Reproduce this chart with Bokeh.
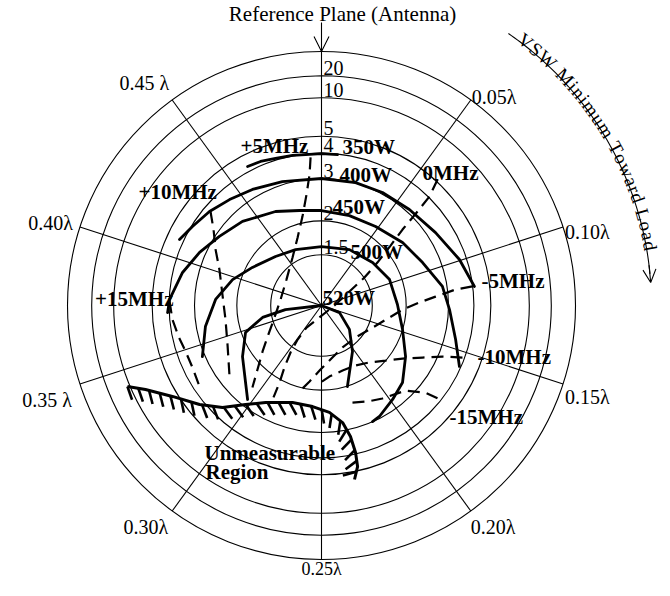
import numpy as np
from bokeh.plotting import figure
from bokeh.models import Range1d, Arrow, OpenHead
from bokeh.core.properties import value
from bokeh.embed import file_html
from bokeh.resources import INLINE

# ---------------- data ----------------
vswr_values = [1.5, 2, 3, 4, 5, 10, 20]
vswr_labels = ["1.5", "2", "3", "4", "5", "10", "20"]

wavelength_ticks = [0.00, 0.05, 0.10, 0.15, 0.20, 0.25, 0.30, 0.35, 0.40, 0.45]
wavelength_labels = ["", "0.05λ", "0.10λ", "0.15λ", "0.20λ", "0.25λ", "0.30λ", "0.35 λ", "0.40λ", "0.45 λ"]

# power contours (reflection coefficient: real / imaginary part)
p350_re = [-0.291, -0.240, -0.181, -0.114, -0.063, 0.000, 0.063]
p350_im = [0.547, 0.567, 0.579, 0.591, 0.594, 0.598, 0.594]
p400_re = [-0.559, -0.508, -0.441, -0.362, -0.272, -0.154, 0.000, 0.134, 0.240, 0.346, 0.449, 0.543, 0.602]
p400_im = [0.260, 0.311, 0.370, 0.417, 0.457, 0.488, 0.500, 0.484, 0.445, 0.378, 0.287, 0.181, 0.075]
p450_re = [-0.606, -0.598, -0.547, -0.480, -0.402, -0.311, -0.181, -0.087, 0.000, 0.110, 0.213, 0.319, 0.398, 0.476, 0.504, 0.528, 0.543]
p450_im = [-0.028, 0.024, 0.130, 0.209, 0.272, 0.331, 0.370, 0.374, 0.374, 0.354, 0.311, 0.248, 0.169, 0.075, -0.016, -0.134, -0.240]
p500_re = [-0.469, -0.457, -0.417, -0.350, -0.272, -0.181, -0.102, 0.000, 0.110, 0.201, 0.268, 0.299, 0.319, 0.331, 0.319, 0.280, 0.228, 0.201]
p500_im = [-0.201, -0.083, 0.024, 0.102, 0.150, 0.193, 0.220, 0.232, 0.220, 0.169, 0.102, 0.004, -0.094, -0.201, -0.303, -0.370, -0.437, -0.457]
p520_re = [-0.291, -0.299, -0.311, -0.299, -0.232, -0.142, 0.000, 0.071, 0.110, 0.122, 0.110, 0.102]
p520_im = [-0.370, -0.303, -0.201, -0.106, -0.047, -0.016, 0.000, -0.028, -0.094, -0.181, -0.264, -0.319]
power_labels = ["350W", "400W", "450W", "500W", "520W"]

# frequency-pulling contours
f_p15_re = [-0.598, -0.587, -0.563, -0.535, -0.508, -0.480]
f_p15_im = [0.016, -0.055, -0.122, -0.181, -0.244, -0.319]
f_p10_re = [-0.437, -0.425, -0.417, -0.402, -0.390, -0.378, -0.370, -0.362]
f_p10_im = [0.370, 0.299, 0.220, 0.142, 0.043, -0.055, -0.154, -0.280]
f_p5_re = [-0.043, -0.047, -0.059, -0.075, -0.094, -0.114, -0.138, -0.161, -0.185, -0.209, -0.232, -0.252, -0.272]
f_p5_im = [0.583, 0.516, 0.437, 0.350, 0.268, 0.189, 0.102, 0.024, -0.047, -0.114, -0.181, -0.252, -0.323]
f_0_re = [0.457, 0.425, 0.378, 0.319, 0.272, 0.220, 0.169, 0.110, 0.051, -0.008, -0.059, -0.094, -0.122, -0.146, -0.165, -0.189]
f_0_im = [0.496, 0.429, 0.370, 0.299, 0.236, 0.169, 0.110, 0.055, 0.000, -0.047, -0.087, -0.134, -0.185, -0.244, -0.303, -0.362]
f_m5_re = [0.594, 0.528, 0.449, 0.386, 0.319, 0.268, 0.201, 0.134, 0.083, 0.043, -0.004, -0.047, -0.087]
f_m5_im = [0.075, 0.063, 0.035, 0.012, -0.016, -0.047, -0.087, -0.126, -0.165, -0.205, -0.252, -0.299, -0.339]
f_m10_re = [0.555, 0.476, 0.398, 0.319, 0.252, 0.189, 0.134, 0.083, 0.031, -0.016]
f_m10_im = [-0.205, -0.201, -0.205, -0.209, -0.217, -0.224, -0.236, -0.256, -0.280, -0.311]
f_m15_re = [0.122, 0.181, 0.240, 0.331, 0.409, 0.476]
f_m15_im = [-0.382, -0.378, -0.366, -0.335, -0.343, -0.374]
freq_labels = ["+15MHz", "+10MHz", "+5MHz", "0MHz", "-5MHz", "-10MHz", "-15MHz"]

# boundary of the unmeasurable region
unmeas_re = [-0.764, -0.693, -0.587, -0.480, -0.390, -0.299, -0.220, -0.114, -0.035, 0.031, 0.083, 0.114, 0.134, 0.142, 0.130]
unmeas_im = [-0.319, -0.331, -0.358, -0.390, -0.402, -0.390, -0.382, -0.382, -0.398, -0.421, -0.461, -0.516, -0.579, -0.634, -0.685]

title_text = "Reference Plane (Antenna)"
arc_text = "VSW Minimum Toward Load"

# ---------------- layout ----------------
W, H = 662, 580
RPX = 254.0            # pixels per unit reflection coefficient
CX, CY = 321.0, 305.0  # chart centre in frame pixels (from top-left)
PX = 1.0 / RPX

p = figure(width=W, height=H, output_backend="svg", toolbar_location=None,
           x_range=Range1d(-CX / RPX, (W - CX) / RPX),
           y_range=Range1d(-(H - CY) / RPX, CY / RPX),
           min_border=0)
p.axis.visible = False
p.grid.visible = False
p.outline_line_color = None
p.background_fill_color = "white"
p.border_fill_color = "white"

FONT = value("Liberation Serif")

def put(txt, dx, dy, align="left", bold=False, size="21px", angle=0.0):
    p.text(x=[dx * PX], y=[dy * PX], text=[txt], angle=angle,
           text_font=FONT, text_font_size=size,
           text_font_style="bold" if bold else "normal",
           text_align=align, text_baseline="alphabetic", text_color="black")

# VSWR circles
gam = [(s - 1.0) / (s + 1.0) for s in vswr_values] + [1.0]
p.circle(x=[0.0] * len(gam), y=[0.0] * len(gam), radius=gam,
         fill_color=None, line_color="black", line_width=1.1)

# radial lines
th = np.radians(np.array(wavelength_ticks) * 720.0)
ex, ey = np.sin(th), np.cos(th)
p.segment(x0=[0.0] * len(th), y0=[0.0] * len(th), x1=ex, y1=ey,
          line_color="black", line_width=1.1)

# reference plane arrow
p.add_layout(Arrow(end=OpenHead(size=15, line_width=1.1, line_color="black"),
                   x_start=0.0, y_start=283 * PX, x_end=0.0, y_end=1.0,
                   line_width=1.1, line_color="black"))
put(title_text, 21, 292, align="center")

# wavelength labels (offsets in px from line ends: dx right, dy up)
lab_off = {1: (1, 3, "left", "20px"), 2: (2, -4.5, "left", "20px"), 3: (2, -13.5, "left", "20px"),
           4: (0, -16.5, "left", "20px"), 5: (0, -9, "center", "18px"), 6: (-4, -16.5, "right", "20px"),
           7: (-8, -16, "right", "20px"), 8: (-7, 4.5, "right", "20px"), 9: (-3, 17.5, "right", "20px")}
for i, lab in enumerate(wavelength_labels):
    if not lab:
        continue
    ox, oy, al, sz = lab_off[i]
    put(lab, ex[i] * RPX + ox, ey[i] * RPX + oy, align=al, size=sz)

# VSWR labels above each circle on the reference line
for g, lab in zip(gam[:-1], vswr_labels):
    put(lab, 2, g * RPX + 8, align="left", size="20px")

# power contours (thick solid)
for re, im in [(p350_re, p350_im), (p400_re, p400_im), (p450_re, p450_im),
               (p500_re, p500_im), (p520_re, p520_im)]:
    p.line(re, im, line_color="black", line_width=2.8, line_join="round", line_cap="round")

# frequency contours (dashed)
for re, im in [(f_p15_re, f_p15_im), (f_p10_re, f_p10_im), (f_p5_re, f_p5_im),
               (f_0_re, f_0_im), (f_m5_re, f_m5_im), (f_m10_re, f_m10_im),
               (f_m15_re, f_m15_im)]:
    p.line(re, im, line_color="black", line_width=2.2, line_dash="12 7")

# unmeasurable region boundary with hatching
p.line(unmeas_re, unmeas_im, line_color="black", line_width=3.0, line_join="round")
bx, by = np.array(unmeas_re), np.array(unmeas_im)
seg = np.hypot(np.diff(bx), np.diff(by))
cum = np.concatenate([[0.0], np.cumsum(seg)])
step = 11 * PX
s_vals = np.arange(0.0, cum[-1], step)
hx0, hy0, hx1, hy1 = [], [], [], []
for s in s_vals:
    k = min(np.searchsorted(cum, s, side="right") - 1, len(seg) - 1)
    f = (s - cum[k]) / seg[k]
    px_ = bx[k] + f * (bx[k + 1] - bx[k])
    py_ = by[k] + f * (by[k + 1] - by[k])
    tx, ty = (bx[k + 1] - bx[k]) / seg[k], (by[k + 1] - by[k]) / seg[k]
    nx, ny = ty, -tx
    dx_, dy_ = nx + 0.55 * tx, ny + 0.55 * ty
    nn = np.hypot(dx_, dy_)
    L = 14 * PX
    hx0.append(px_); hy0.append(py_)
    hx1.append(px_ + L * dx_ / nn); hy1.append(py_ + L * dy_ / nn)
p.segment(x0=hx0, y0=hy0, x1=hx1, y1=hy1, line_color="black", line_width=2.6)

# contour labels (px offsets from centre, dx right / dy up)
pow_pos = [(21, 159), (18, 131), (11, 99), (29, 54), (1, 8)]
for lab, (dx, dy) in zip(power_labels, pow_pos):
    put(lab, dx, dy, bold=True)
freq_pos = [(-148, 7, "right"), (-183, 114, "left"), (-81, 160, "left"), (101, 133, "left"),
            (160, 25, "left"), (156, -51, "left"), (128, -111, "left")]
for lab, (dx, dy, al) in zip(freq_labels, freq_pos):
    put(lab, dx, dy, align=al, bold=True)
put("Unmeasurable", -117, -147, bold=True)
put("Region", -116, -166, bold=True)

# curved caption with arrow
arc_r = 330 * PX
a0, a1 = np.radians(34.5), np.radians(86.0)
aa = np.linspace(a0, a1 - np.radians(1.5), 80)
p.line(arc_r * np.sin(aa), arc_r * np.cos(aa), line_color="black", line_width=1.1)
p.add_layout(Arrow(end=OpenHead(size=13, line_width=1.1, line_color="black"),
                   x_start=arc_r * np.sin(a1 - np.radians(3)), y_start=arc_r * np.cos(a1 - np.radians(3)),
                   x_end=arc_r * np.sin(a1), y_end=arc_r * np.cos(a1),
                   line_width=1.1, line_color="black"))

em = {"V": .722, "S": .556, "W": .944, " ": .25, "M": .889, "i": .278, "n": .5, "m": .778,
      "u": .5, "T": .611, "o": .5, "w": .722, "a": .444, "r": .333, "d": .5, "L": .611}
fs = 19.0
widths = np.array([em.get(c, .5) * fs for c in arc_text])
rb = 334.0
t0, t1 = np.radians(36.5), np.radians(80.5)
total = (t1 - t0) * rb
gap = (total - widths.sum()) / (len(arc_text) - 1)
pos = t0 * rb
cx_, cy_, ca, ct = [], [], [], []
for c, w in zip(arc_text, widths):
    mid = (pos + w / 2.0) / rb
    cx_.append(rb * PX * np.sin(mid)); cy_.append(rb * PX * np.cos(mid))
    ca.append(-mid); ct.append(c)
    pos += w + gap
p.text(x=cx_, y=cy_, text=ct, angle=ca, text_font=FONT, text_font_size="19px",
       text_align="center", text_baseline="alphabetic", text_color="black")

open("out.html", "w").write(file_html(p, INLINE))
